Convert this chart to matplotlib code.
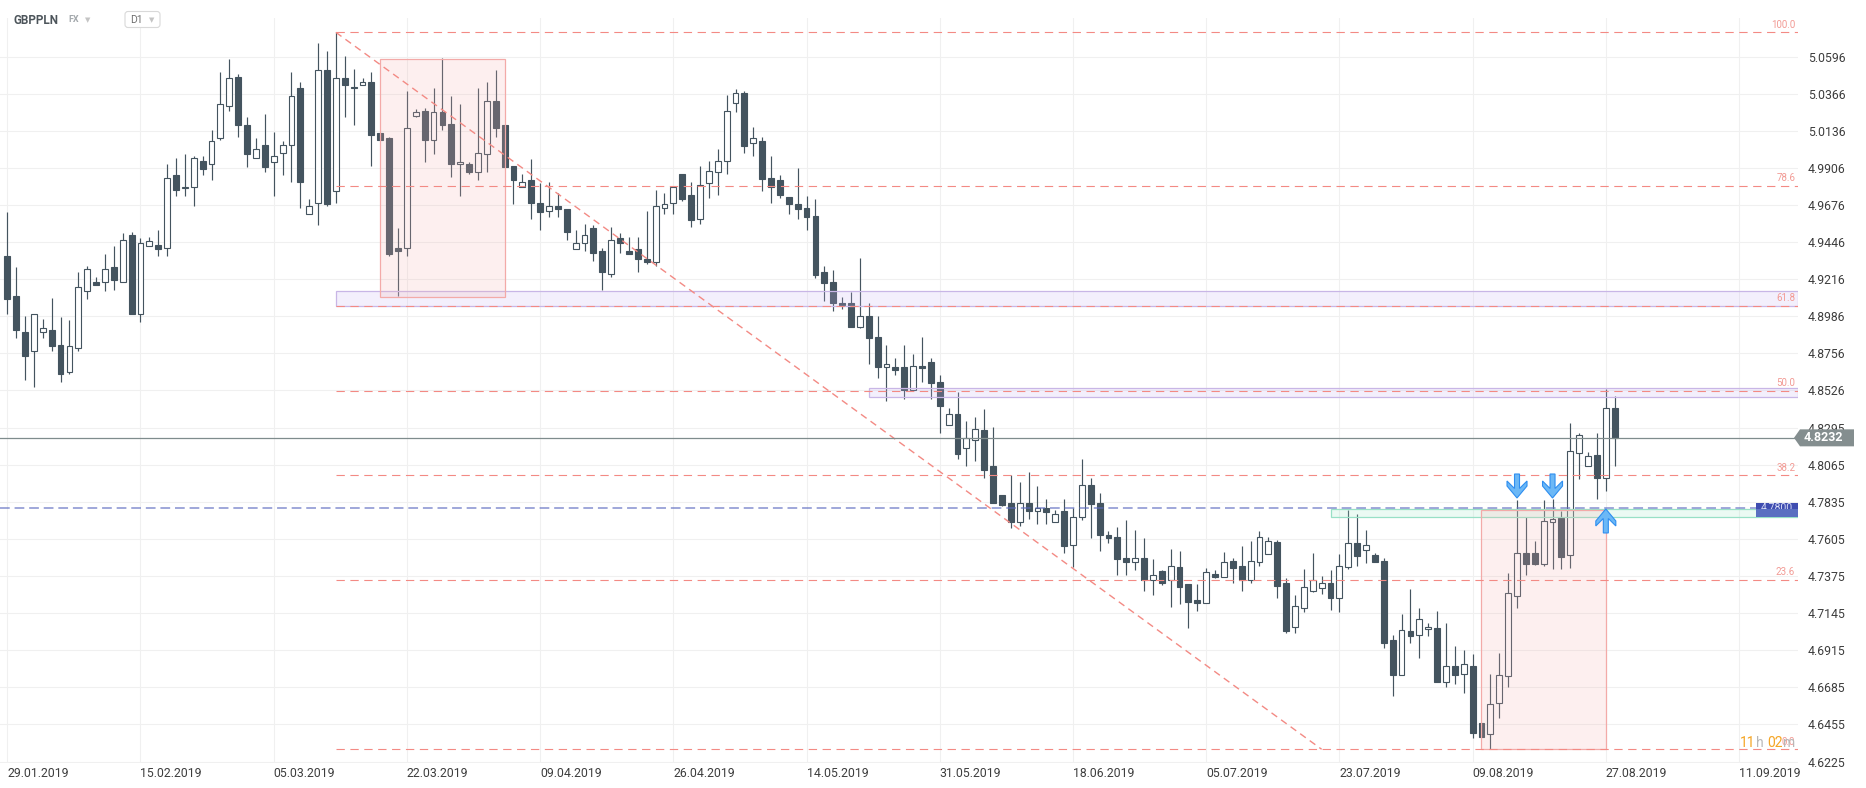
import matplotlib
matplotlib.use("Agg")

import matplotlib.pyplot as plt
from matplotlib.patches import FancyBboxPatch, Polygon, Rectangle
from matplotlib.transforms import IdentityTransform


plt.rcParams["font.family"] = ["Roboto", "DejaVu Sans"]
plt.rcParams["lines.scale_dashes"] = False

# daily GBPPLN candles (bar index 0 = 29.01.2019)
OPEN = [
    4.936, 4.911, 4.889, 4.877, 4.889, 4.890, 4.881, 4.864, 4.879, 4.914,
    4.920, 4.920, 4.929, 4.920, 4.949, 4.900, 4.942, 4.943, 4.941, 4.986,
    4.978, 4.979, 4.995, 4.993, 5.009, 5.029, 5.047, 5.017, 4.997, 5.005,
    4.994, 5.000, 5.005, 5.040, 4.962, 4.969, 5.051, 4.976, 5.046, 5.041,
    5.042, 5.044, 5.012, 5.009, 4.941, 4.941, 5.023, 5.026, 5.008, 5.025,
    5.018, 4.993, 4.993, 4.988, 4.999, 5.032, 5.017, 4.992, 4.979, 4.983,
    4.969, 4.964, 4.967, 4.965, 4.940, 4.944, 4.953, 4.939, 4.925, 4.947,
    4.939, 4.940, 4.934, 4.932, 4.966, 4.969, 4.987, 4.974, 4.959, 4.981,
    4.988, 4.995, 5.031, 5.037, 5.006, 5.007, 4.984, 4.983, 4.9725, 4.968,
    4.966, 4.961, 4.926, 4.920, 4.907, 4.907, 4.892, 4.899, 4.886, 4.867,
    4.867, 4.867, 4.853, 4.868, 4.870, 4.858, 4.831, 4.838, 4.817, 4.822,
    4.828, 4.806, 4.788, 4.783, 4.771, 4.783, 4.778, 4.780, 4.771, 4.778,
    4.7565, 4.774, 4.794, 4.783, 4.763, 4.7615, 4.749, 4.7465, 4.749, 4.735,
    4.7405, 4.735, 4.743, 4.7325, 4.7225, 4.721, 4.7385, 4.737, 4.747, 4.744,
    4.735, 4.7465, 4.751, 4.7585, 4.733, 4.706, 4.718, 4.7285, 4.730, 4.733,
    4.724, 4.743, 4.758, 4.7535, 4.7505, 4.747, 4.698, 4.676, 4.7035, 4.701,
    4.7045, 4.705, 4.672, 4.682, 4.6765, 4.682, 4.6465, 4.6395, 4.6585, 4.6755,
    4.725, 4.7515, 4.752, 4.745, 4.771, 4.7735, 4.7505, 4.814, 4.806, 4.8125,
    4.798, 4.842,
]
HIGH = [
    4.963, 4.929, 4.899, 4.900, 4.897, 4.910, 4.898, 4.896, 4.926, 4.930,
    4.923, 4.937, 4.942, 4.950, 4.951, 4.947, 4.948, 4.952, 4.993, 4.997,
    4.999, 4.998, 4.998, 5.014, 5.050, 5.058, 5.049, 5.022, 5.009, 5.024,
    5.013, 5.007, 5.050, 5.044, 4.971, 5.068, 5.063, 5.0746, 5.060, 5.052,
    5.046, 5.050, 5.012, 5.010, 4.953, 5.038, 5.027, 5.028, 5.040, 5.059,
    5.035, 5.030, 4.994, 5.040, 5.044, 5.051, 5.017, 4.992, 4.987, 4.996,
    4.981, 4.982, 4.975, 4.965, 4.952, 4.956, 4.955, 4.941, 4.954, 4.950,
    4.948, 4.948, 4.964, 4.977, 4.975, 4.979, 4.987, 4.982, 4.992, 4.995,
    5.002, 5.036, 5.0395, 5.038, 5.016, 5.010, 4.998, 4.986, 4.9725, 4.9905,
    4.973, 4.971, 4.930, 4.927, 4.9105, 4.9135, 4.935, 4.907, 4.899, 4.881,
    4.873, 4.881, 4.875, 4.886, 4.873, 4.862, 4.842, 4.8515, 4.8335, 4.836,
    4.841, 4.8297, 4.788, 4.800, 4.796, 4.802, 4.7935, 4.785, 4.7785, 4.785,
    4.780, 4.810, 4.798, 4.789, 4.7655, 4.768, 4.772, 4.766, 4.761, 4.748,
    4.741, 4.754, 4.753, 4.7325, 4.7325, 4.7425, 4.741, 4.7525, 4.749, 4.756,
    4.759, 4.7655, 4.7615, 4.760, 4.736, 4.7258, 4.742, 4.7515, 4.7375, 4.741,
    4.751, 4.7785, 4.776, 4.766, 4.752, 4.749, 4.701, 4.714, 4.7295, 4.7175,
    4.7085, 4.716, 4.7085, 4.694, 4.6915, 4.689, 4.6465, 4.677, 4.690, 4.7395,
    4.7845, 4.774, 4.759, 4.7845, 4.7855, 4.778, 4.8325, 4.826, 4.8145, 4.8265,
    4.8533, 4.849,
]
LOW = [
    4.900, 4.885, 4.859, 4.855, 4.885, 4.877, 4.858, 4.863, 4.877, 4.909,
    4.918, 4.914, 4.915, 4.920, 4.900, 4.895, 4.942, 4.936, 4.936, 4.973,
    4.973, 4.967, 4.986, 4.983, 5.008, 5.026, 5.010, 4.991, 4.997, 4.988,
    4.973, 4.986, 4.982, 4.966, 4.962, 4.955, 4.967, 4.969, 5.022, 5.017,
    5.042, 4.992, 5.008, 4.936, 4.911, 4.936, 5.022, 4.994, 4.999, 5.014,
    4.985, 4.973, 4.987, 4.983, 4.988, 5.010, 4.991, 4.968, 4.979, 4.959,
    4.952, 4.960, 4.960, 4.946, 4.940, 4.939, 4.933, 4.915, 4.923, 4.938,
    4.937, 4.926, 4.931, 4.930, 4.962, 4.962, 4.970, 4.954, 4.956, 4.972,
    4.974, 4.987, 5.025, 5.000, 4.998, 4.976, 4.969, 4.972, 4.962, 4.959,
    4.952, 4.9225, 4.908, 4.902, 4.903, 4.892, 4.8915, 4.869, 4.860, 4.846,
    4.862, 4.8475, 4.8525, 4.858, 4.8475, 4.826, 4.831, 4.810, 4.806, 4.809,
    4.798, 4.783, 4.781, 4.767, 4.7685, 4.773, 4.770, 4.770, 4.771, 4.7515,
    4.743, 4.772, 4.761, 4.753, 4.758, 4.738, 4.738, 4.741, 4.7285, 4.726,
    4.732, 4.7185, 4.720, 4.7055, 4.716, 4.721, 4.736, 4.737, 4.7335, 4.728,
    4.733, 4.744, 4.751, 4.724, 4.702, 4.702, 4.715, 4.7275, 4.7265, 4.7165,
    4.7155, 4.742, 4.744, 4.7455, 4.7465, 4.693, 4.663, 4.676, 4.696, 4.687,
    4.7005, 4.672, 4.6685, 4.6705, 4.665, 4.637, 4.638, 4.6301, 4.6495, 4.6685,
    4.7175, 4.738, 4.7445, 4.7435, 4.742, 4.742, 4.7425, 4.7975, 4.806, 4.785,
    4.7905, 4.8055,
]
CLOSE = [
    4.909, 4.890, 4.874, 4.900, 4.891, 4.880, 4.863, 4.880, 4.917, 4.928,
    4.918, 4.928, 4.921, 4.946, 4.900, 4.944, 4.945, 4.940, 4.984, 4.977,
    4.979, 4.997, 4.990, 5.007, 5.030, 5.046, 5.017, 4.999, 5.002, 4.991,
    4.998, 5.005, 5.035, 4.982, 4.967, 5.051, 4.968, 5.046, 5.042, 5.040,
    5.044, 5.011, 5.008, 4.937, 4.939, 5.015, 5.025, 5.008, 5.025, 5.017,
    4.993, 4.994, 4.988, 5.000, 5.032, 5.015, 4.991, 4.983, 4.982, 4.969,
    4.963, 4.967, 4.965, 4.951, 4.944, 4.949, 4.938, 4.926, 4.946, 4.944,
    4.937, 4.934, 4.932, 4.967, 4.968, 4.979, 4.971, 4.958, 4.980, 4.9885,
    4.995, 5.026, 5.037, 5.004, 5.009, 4.9835, 4.979, 4.974, 4.968, 4.965,
    4.960, 4.924, 4.919, 4.907, 4.9055, 4.892, 4.899, 4.885, 4.867, 4.869,
    4.865, 4.853, 4.868, 4.8665, 4.857, 4.843, 4.838, 4.813, 4.823, 4.8285,
    4.803, 4.783, 4.7815, 4.771, 4.783, 4.778, 4.7795, 4.777, 4.776, 4.756,
    4.774, 4.794, 4.782, 4.763, 4.761, 4.748, 4.7465, 4.749, 4.735, 4.738,
    4.7335, 4.7435, 4.731, 4.7215, 4.721, 4.740, 4.737, 4.7465, 4.7425, 4.735,
    4.747, 4.7615, 4.759, 4.7315, 4.7035, 4.719, 4.7305, 4.735, 4.733, 4.724,
    4.744, 4.758, 4.750, 4.757, 4.7465, 4.696, 4.676, 4.704, 4.7005, 4.711,
    4.706, 4.672, 4.682, 4.676, 4.683, 4.6405, 4.638, 4.658, 4.676, 4.727,
    4.752, 4.745, 4.745, 4.7715, 4.773, 4.7495, 4.815, 4.825, 4.812, 4.798,
    4.8415, 4.8232,
]

DATE_LABELS = [
    "29.01.2019", "15.02.2019", "05.03.2019", "22.03.2019", "09.04.2019",
    "26.04.2019", "14.05.2019", "31.05.2019", "18.06.2019", "05.07.2019",
    "23.07.2019", "09.08.2019", "27.08.2019", "11.09.2019",
]
BARS_PER_LABEL = 15

PRICE_TICKS = [
    4.6225, 4.6455, 4.6685, 4.6915, 4.7145, 4.7375, 4.7605, 4.7835,
    4.8065, 4.8295, 4.8526, 4.8756, 4.8986, 4.9216, 4.9446, 4.9676,
    4.9906, 5.0136, 5.0366, 5.0596,
]

# fibonacci retracement drawn from the March high to the August low
FIB_HIGH = 5.0746
FIB_LOW = 4.6301
FIB_HIGH_BAR = 37
FIB_LOW_BAR = 148
FIB_LEVELS = [0.0, 23.6, 38.2, 50.0, 61.8, 78.6, 100.0]

# horizontal zones: (start bar, bottom, top)
PURPLE_ZONES = [(37, 4.9050, 4.9141), (97, 4.8484, 4.8540)]
GREEN_ZONE = (149, 4.7743, 4.7793)

# shaded boxes: (start bar, end bar, bottom, top)
PINK_BOXES = [(42, 56, 4.9104, 5.0579), (166, 180, 4.6305, 4.7785)]

LEVEL_PRICE = 4.7800
LAST_PRICE = 4.8232

DOWN_ARROWS = [(170, 4.7859), (174, 4.7859)]
UP_ARROWS = [(180, 4.7791)]

CANDLE_COLOR = "#44545f"
GRID_COLOR = "#f0f0f0"
FIB_COLOR = "#f38a84"
TEXT_COLOR = "#3d3d3d"

WIDTH_PX = 1866
HEIGHT_PX = 788


def draw_candles(ax):
    for i, (o, h, l, c) in enumerate(zip(OPEN, HIGH, LOW, CLOSE)):
        ax.vlines(i, l, h, color=CANDLE_COLOR, lw=0.85, zorder=2)
        bottom = min(o, c)
        height = max(abs(c - o), 0.0004)
        face = "white" if c >= o else CANDLE_COLOR
        ax.add_patch(
            Rectangle(
                (i - 0.33, bottom),
                0.66,
                height,
                facecolor=face,
                edgecolor=CANDLE_COLOR,
                lw=0.8,
                zorder=3,
            )
        )


def draw_arrow(ax, bar, price, pointing):
    tip_x, tip_y = ax.transData.transform((bar, price))
    sign = 1 if pointing == "down" else -1
    shape = [
        (0, 0), (10, 12), (10, 17), (2.5, 9.5), (2.5, 24),
        (-2.5, 24), (-2.5, 9.5), (-10, 17), (-10, 12),
    ]
    verts = [(tip_x + dx, tip_y + sign * dy) for dx, dy in shape]
    ax.add_patch(
        Polygon(
            verts,
            closed=True,
            transform=IdentityTransform(),
            facecolor="#6cb8f6",
            edgecolor="#2e8ef0",
            lw=0.8,
            zorder=8,
        )
    )


def main():
    fig = plt.figure(figsize=(WIDTH_PX / 100, HEIGHT_PX / 100), dpi=100)
    ax = fig.add_axes([0, 25 / HEIGHT_PX, 1798 / WIDTH_PX, 745 / HEIGHT_PX])

    n_bars = len(CLOSE)
    x_right = 201.64
    ax.set_xlim(-0.82, x_right)
    ax.set_ylim(4.6216, 5.0835)

    for spine in ax.spines.values():
        spine.set_visible(False)

    # grid
    label_bars = [k * BARS_PER_LABEL for k in range(len(DATE_LABELS))]
    for b in label_bars:
        ax.axvline(b, color=GRID_COLOR, lw=0.75, zorder=0)
    for p in PRICE_TICKS:
        ax.axhline(p, color=GRID_COLOR, lw=0.75, zorder=0)

    draw_candles(ax)

    # zones extending to the right edge
    for start, bottom, top in PURPLE_ZONES:
        ax.add_patch(
            Rectangle(
                (start, bottom), x_right - start, top - bottom,
                facecolor=(0.78, 0.70, 0.94, 0.2),
                edgecolor="#c8b6e6", lw=0.9, zorder=4,
            )
        )
    start, bottom, top = GREEN_ZONE
    ax.add_patch(
        Rectangle(
            (start, bottom), x_right - start, top - bottom,
            facecolor=(0.62, 0.90, 0.78, 0.2),
            edgecolor="#98e0c6", lw=0.9, zorder=4,
        )
    )

    for left, right, bottom, top in PINK_BOXES:
        ax.add_patch(
            Rectangle(
                (left, bottom), right - left, top - bottom,
                facecolor=(0.96, 0.70, 0.69, 0.2),
                edgecolor="#f3aaa8", lw=0.9, zorder=4,
            )
        )

    # fibonacci levels and trend line
    span = FIB_HIGH - FIB_LOW
    for level in FIB_LEVELS:
        price = FIB_LOW + span * level / 100
        ax.hlines(
            price, FIB_HIGH_BAR, x_right,
            color=FIB_COLOR, lw=0.8, linestyles=(0, (6, 4)), zorder=5,
        )
        ax.annotate(
            f"{level:.1f}",
            xy=(1, price),
            xycoords=ax.get_yaxis_transform(),
            xytext=(-2, 2),
            textcoords="offset points",
            ha="right",
            va="bottom",
            fontsize=7,
            color="#f29a94",
            zorder=6,
        )
    ax.plot(
        [FIB_HIGH_BAR, FIB_LOW_BAR], [FIB_HIGH, FIB_LOW],
        color=FIB_COLOR, lw=1.0, linestyle=(0, (5, 3.5)), zorder=5,
    )

    # support level and last price
    ax.axhline(
        LEVEL_PRICE, color="#5c6bc0", alpha=0.75, lw=1.1,
        linestyle=(0, (7, 3.5)), zorder=5,
    )
    ax.axhline(LAST_PRICE, color="#7f8c8d", lw=0.9, zorder=5)

    for bar, price in DOWN_ARROWS:
        draw_arrow(ax, bar, price, "down")
    for bar, price in UP_ARROWS:
        draw_arrow(ax, bar, price, "up")

    # axes ticks
    ax.set_xticks(label_bars)
    ax.set_xticklabels(DATE_LABELS, ha="left")
    ax.tick_params(axis="x", length=0, pad=3, labelsize=8.8, labelcolor=TEXT_COLOR)
    ax.yaxis.tick_right()
    ax.set_yticks(PRICE_TICKS)
    ax.set_yticklabels([f"{p:.4f}" for p in PRICE_TICKS])
    ax.tick_params(axis="y", length=0, pad=7, labelsize=8.8, labelcolor=TEXT_COLOR)

    # price tag for the last close
    ax_right, tag_y = ax.transData.transform((x_right, LAST_PRICE))
    tag = [
        (ax_right - 4, tag_y), (ax_right + 2, tag_y + 8.5),
        (ax_right + 56, tag_y + 8.5), (ax_right + 56, tag_y - 8.5),
        (ax_right + 2, tag_y - 8.5),
    ]
    fig.add_artist(
        Polygon(tag, closed=True, transform=IdentityTransform(),
                facecolor="#848e8f", edgecolor="none", zorder=5)
    )
    fig.text(
        ax_right + 25, tag_y, f"{LAST_PRICE:.4f}",
        transform=IdentityTransform(), ha="center", va="center",
        fontsize=9, weight="bold", color="white", zorder=6,
    )

    # price tag for the horizontal level
    _, level_y = ax.transData.transform((x_right, LEVEL_PRICE))
    upper = Rectangle(
        (ax_right - 42, level_y - 1.5), 42, 6.5,
        transform=IdentityTransform(), facecolor="#3f4db0",
        edgecolor="none", zorder=6,
    )
    lower = Rectangle(
        (ax_right - 42, level_y - 9), 42, 7.5,
        transform=IdentityTransform(), facecolor="#5a6fc1",
        edgecolor="none", zorder=7,
    )
    fig.add_artist(upper)
    fig.add_artist(lower)
    level_text = fig.text(
        ax_right - 21, level_y, f"{LEVEL_PRICE:.4f}",
        transform=IdentityTransform(), ha="center", va="center",
        fontsize=7.5, color="#d6dbf5", zorder=6.5,
    )
    level_text.set_clip_path(upper)

    # countdown
    base_y = HEIGHT_PX - 743
    parts = [("11", "#f5a524", 1740), ("h", "#b8b8b8", 1756),
             ("02", "#f5a524", 1767), ("m", "#b8b8b8", 1783)]
    for text, color, x in parts:
        fig.text(x, base_y, text, transform=IdentityTransform(),
                 ha="left", va="center", fontsize=10, color=color, zorder=9)

    # header
    fig.text(14 / WIDTH_PX, 1 - 20 / HEIGHT_PX, "GBPPLN", fontsize=8.5,
             weight="bold", color="#4d555b", va="center")
    fig.text(68 / WIDTH_PX, 1 - 20 / HEIGHT_PX, "FX", fontsize=6.5,
             weight="bold", color="#a3a8ac", va="center")
    fig.text(88 / WIDTH_PX, 1 - 20 / HEIGHT_PX, "\u25bc", fontsize=5,
             color="#c4c4c4", va="center", ha="center",
             family=["DejaVu Sans"])
    fig.add_artist(
        FancyBboxPatch(
            (125, HEIGHT_PX - 27.5), 35, 16,
            boxstyle="round,pad=0,rounding_size=3",
            transform=IdentityTransform(),
            facecolor="white", edgecolor="#d9d9d9", lw=0.8, zorder=3,
        )
    )
    fig.text(130 / WIDTH_PX, 1 - 20 / HEIGHT_PX, "D1", fontsize=7.5,
             color="#707070", va="center", zorder=4)
    fig.text(152 / WIDTH_PX, 1 - 20 / HEIGHT_PX, "\u25bc", fontsize=5,
             color="#c4c4c4", va="center", ha="center",
             family=["DejaVu Sans"], zorder=4)

    fig.savefig("out.png", dpi=100)
    plt.close(fig)


if __name__ == "__main__":
    main()
